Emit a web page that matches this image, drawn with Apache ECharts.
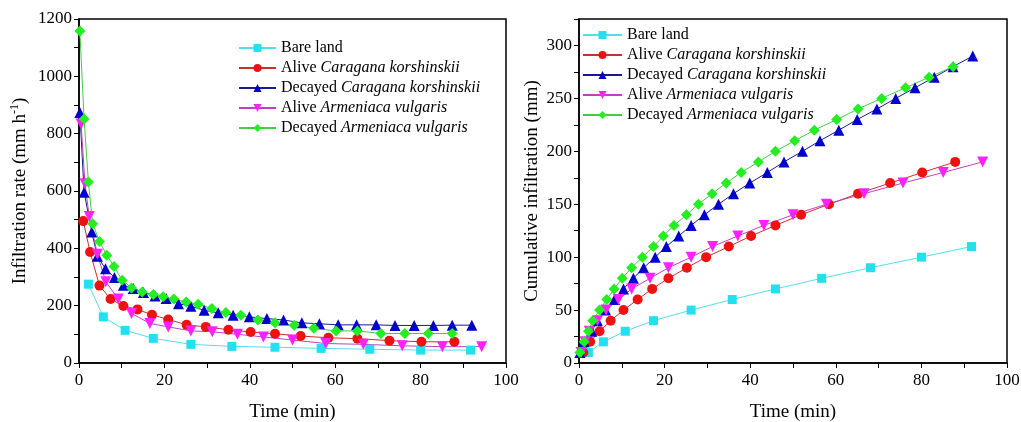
<!DOCTYPE html>
<html>
<head>
<meta charset="utf-8">
<script src="https://cdn.jsdelivr.net/npm/echarts@6/dist/echarts.min.js"></script>
<style>
  html, body { margin: 0; padding: 0; background: #fff; }
  #chart { width: 1021px; height: 422px; }
</style>
</head>
<body>
<div id="chart"></div>
<script>
// 各处理：时间 (min)、入渗速率 (mm h-1)、累积入渗 (mm)
const timeBare = [2.2, 5.7, 10.8, 17.4, 26.2, 35.8, 45.9, 56.7, 68.1, 80.0, 91.7]
const rateBare = [275, 161, 114, 86, 65, 58, 55, 51, 48, 45, 45]
const cumBare = [10, 20, 30, 40, 50, 60, 70, 80, 90, 100, 110]

const timeAliveCK = [1.0, 2.6, 4.8, 7.4, 10.4, 13.7, 17.1, 20.9, 25.2, 29.7, 35.0, 40.2, 45.9, 51.9, 58.4, 65.2, 72.7, 80.2, 87.9]
const rateAliveCK = [495, 387, 270, 223, 199, 187, 168, 152, 133, 126, 116, 108, 102, 94, 88, 85, 78, 74, 74]
const cumAliveCK = [10, 20, 30, 40, 50, 60, 70, 80, 90, 100, 110, 120, 130, 140, 150, 160, 170, 180, 190]

const timeDecayedCK = [0.2, 1.2, 3.0, 4.3, 6.2, 8.3, 10.4, 12.7, 15.1, 17.8, 20.4, 23.3, 26.2, 29.3, 32.6, 36.1, 39.9, 44.0, 47.9, 52.2, 56.3, 60.7, 65.0, 69.6, 74.0, 78.5, 83.0, 87.4, 92.0]
const rateDecayedCK = [874, 596, 457, 372, 329, 298, 271, 260, 246, 234, 225, 207, 198, 184, 175, 167, 161, 155, 150, 140, 137, 133, 133, 133, 131, 131, 131, 132, 132]
const cumDecayedCK = [10, 20, 30, 40, 50, 60, 70, 80, 90, 100, 110, 120, 130, 140, 150, 160, 170, 180, 190, 200, 210, 220, 230, 240, 250, 260, 270, 280, 290]

const timeAliveAV = [0.5, 1.4, 2.4, 4.3, 6.3, 9.2, 12.3, 16.6, 20.9, 26.2, 31.2, 37.1, 43.2, 50.0, 57.8, 66.6, 75.7, 85.1, 94.3]
const rateAliveAV = [834, 625, 511, 379, 283, 223, 173, 138, 126, 112, 109, 100, 91, 80, 68, 65, 60, 57, 57]
const cumAliveAV = [10, 20, 30, 40, 50, 60, 70, 80, 90, 100, 110, 120, 130, 140, 150, 160, 170, 180, 190]

const timeDecayedAV = [0.2, 1.2, 2.2, 3.2, 4.8, 6.5, 8.2, 10.1, 12.3, 14.8, 17.4, 19.7, 22.2, 25.1, 27.9, 31.1, 34.4, 37.9, 41.9, 45.9, 50.4, 55.0, 60.2, 65.2, 70.7, 76.3, 81.8, 87.4]
const rateDecayedAV = [1158, 851, 631, 486, 424, 376, 337, 289, 262, 248, 239, 231, 223, 213, 205, 190, 176, 167, 150, 140, 132, 121, 112, 112, 103, 103, 103, 103]
const cumDecayedAV = [10, 20, 30, 40, 50, 60, 70, 80, 90, 100, 110, 120, 130, 140, 150, 160, 170, 180, 190, 200, 210, 220, 230, 240, 250, 260, 270, 280]

const seriesNames = ['Bare land', 'Alive Caragana korshinskii', 'Decayed Caragana korshinskii', 'Alive Armeniaca vulgaris', 'Decayed Armeniaca vulgaris']

const font = 'Liberation Serif'

// 样式：线色、点色、符号
const styles = [
  { line: '#55dde8', fill: '#22e0ee', symbol: 'rect', size: 9 },
  { line: '#c83030', fill: '#ee1111', symbol: 'circle', size: 10 },
  { line: '#1a1a90', fill: '#0000cc', symbol: 'triangle', size: 11 },
  { line: '#c040c0', fill: '#ff22ff', symbol: 'path://M0,0 L10,0 L5,9 Z', size: 11 },
  { line: '#44cc44', fill: '#22ee22', symbol: 'diamond', size: 11 }
]

const rateData = [
  [timeBare, rateBare], [timeAliveCK, rateAliveCK], [timeDecayedCK, rateDecayedCK],
  [timeAliveAV, rateAliveAV], [timeDecayedAV, rateDecayedAV]
]
const cumData = [
  [timeBare, cumBare], [timeAliveCK, cumAliveCK], [timeDecayedCK, cumDecayedCK],
  [timeAliveAV, cumAliveAV], [timeDecayedAV, cumDecayedAV]
]

function zip(xs, ys) {
  return xs.map((x, i) => [x, ys[i]])
}

function makeSeries(data, idx) {
  return data.map((d, i) => ({
    name: seriesNames[i],
    type: 'line',
    xAxisIndex: idx,
    yAxisIndex: idx,
    data: zip(d[0], d[1]),
    symbol: styles[i].symbol,
    symbolSize: styles[i].size,
    lineStyle: { color: styles[i].line, width: 1 },
    itemStyle: { color: styles[i].fill, borderWidth: 0 },
    emphasis: { disabled: true },
    animation: false
  }))
}

// 图例：物种名斜体
function legendFormatter(name) {
  if (name === 'Bare land') return '{n|Bare land}'
  const parts = name.split(' ')
  return '{n|' + parts[0] + ' }{i|' + parts.slice(1).join(' ') + '}'
}
const legendText = {
  rich: {
    n: { fontFamily: font, fontSize: 16, color: '#000' },
    i: { fontFamily: font, fontSize: 16, color: '#000', fontStyle: 'italic' }
  }
}

const axisLine = { show: true, onZero: false, lineStyle: { color: '#000', width: 1.5 } }
const tickLabel = { fontFamily: font, fontSize: 17, color: '#000', formatter: v => String(v) }
const nameFont = { fontFamily: font, fontSize: 19, color: '#000' }

function xAxis(gridIndex) {
  return {
    type: 'value', gridIndex, min: 0, max: 100, interval: 20,
    name: 'Time (min)', nameLocation: 'middle', nameGap: 40,
    nameTextStyle: nameFont,
    axisLine, axisTick: { show: true, length: 5, lineStyle: { color: '#000' } },
    minorTick: { show: true, splitNumber: 2, length: 5, lineStyle: { color: '#000' } },
    axisLabel: { ...tickLabel, margin: 9 },
    splitLine: { show: false }
  }
}

const option = {
  animation: false,
  grid: [
    { left: 79, top: 19, width: 427, height: 344, outerBoundsMode: 'none', containLabel: false, show: true, borderColor: '#000', borderWidth: 1.5 },
    { left: 579, top: 19, width: 428, height: 344, outerBoundsMode: 'none', containLabel: false, show: true, borderColor: '#000', borderWidth: 1.5 }
  ],
  legend: [
    {
      data: seriesNames, left: 238, top: 40, orient: 'vertical', padding: 0,
      itemWidth: 37, itemHeight: 10, itemGap: 4, formatter: legendFormatter, textStyle: legendText,
      selectedMode: false
    },
    {
      data: seriesNames, left: 582, top: 27, orient: 'vertical', padding: 0,
      itemWidth: 39, itemHeight: 10, itemGap: 4, formatter: legendFormatter, textStyle: legendText,
      selectedMode: false
    }
  ],
  xAxis: [xAxis(0), xAxis(1)],
  yAxis: [
    {
      type: 'value', gridIndex: 0, min: 0, max: 1200, interval: 200,
      name: 'Infiltration rate (mm h{sup|-1})', nameLocation: 'middle', nameGap: 48,
      nameTextStyle: {
        ...nameFont, lineHeight: 22,
        rich: { sup: { fontFamily: font, fontSize: 12, color: '#000', verticalAlign: 'top', lineHeight: 12 } }
      },
      axisLine, axisTick: { show: true, length: 5, lineStyle: { color: '#000' } },
      minorTick: { show: true, splitNumber: 2, length: 5, lineStyle: { color: '#000' } },
      axisLabel: { ...tickLabel, margin: 7 },
      splitLine: { show: false }
    },
    {
      type: 'value', gridIndex: 1, min: 0, max: 325, interval: 50,
      name: 'Cumulative infiltration (mm)', nameLocation: 'middle', nameGap: 37,
      nameTextStyle: nameFont,
      axisLine, axisTick: { show: true, length: 5, lineStyle: { color: '#000' } },
      minorTick: { show: true, splitNumber: 2, length: 5, lineStyle: { color: '#000' } },
      axisLabel: { ...tickLabel, margin: 7, showMaxLabel: false, formatter: v => (v % 50 === 0 ? String(v) : '') },
      splitLine: { show: false }
    }
  ],
  series: [...makeSeries(rateData, 0), ...makeSeries(cumData, 1)]
}

const chart = echarts.init(document.getElementById('chart'))
chart.setOption(option)
</script>
</body>
</html>
